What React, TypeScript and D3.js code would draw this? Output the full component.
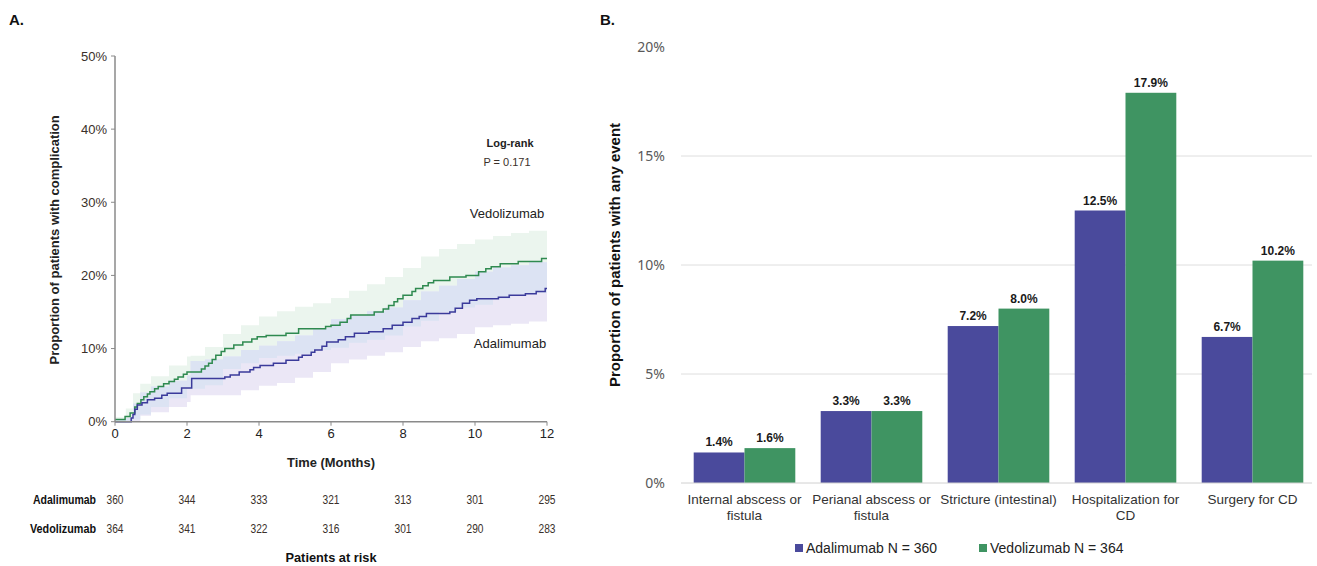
import React from 'react';
import * as d3 from 'd3';

// ---------- Panel A data ----------
const MONTH_TICKS = [0, 2, 4, 6, 8, 10, 12];
const PCT_TICKS_A = [0, 10, 20, 30, 40, 50];
const AT_RISK_ADA = [360, 344, 333, 321, 313, 301, 295];
const AT_RISK_VEDO = [364, 341, 322, 316, 301, 290, 283];

// Kaplan-Meier cumulative incidence steps: [month, percent]
const VEDO_STEPS: [number, number][] = [
  [0, 0.3], [0.28, 0.7], [0.42, 1.2], [0.55, 2.0], [0.62, 2.5], [0.72, 3.0], [0.8, 3.4], [0.9, 3.8],
  [0.97, 4.1], [1.1, 4.5], [1.2, 4.8], [1.35, 5.2], [1.5, 5.5], [1.65, 5.8], [1.75, 6.1], [1.9, 6.5],
  [2.0, 6.8], [2.4, 7.2], [2.5, 7.6], [2.6, 8.0], [2.7, 8.5], [2.8, 9.1], [2.95, 9.6], [3.05, 10.0],
  [3.3, 10.5], [3.55, 10.9], [3.8, 11.3], [3.95, 11.6], [4.2, 11.8], [4.75, 12.1], [5.1, 12.7],
  [5.85, 13.0], [6.0, 13.2], [6.25, 13.6], [6.45, 14.1], [6.55, 14.6], [7.2, 15.0], [7.45, 15.4],
  [7.6, 15.9], [7.75, 16.4], [7.85, 16.8], [8.0, 17.3], [8.25, 17.8], [8.35, 18.2], [8.55, 18.6],
  [8.7, 19.0], [8.85, 19.3], [9.3, 19.8], [9.75, 20.0], [10.1, 20.5], [10.3, 20.9], [10.45, 21.2],
  [10.7, 21.6], [11.2, 21.9], [11.85, 22.3], [12, 22.3],
];
const ADA_STEPS: [number, number][] = [
  [0, 0], [0.45, 0.5], [0.5, 1.0], [0.55, 1.7], [0.62, 2.3], [0.75, 2.6], [0.9, 3.0], [1.1, 3.2],
  [1.3, 3.6], [1.45, 3.9], [1.85, 4.6], [2.13, 5.9], [3.05, 6.1], [3.2, 6.4], [3.45, 6.8], [3.75, 7.1],
  [3.85, 7.4], [4.03, 7.7], [4.4, 8.0], [4.75, 8.4], [5.1, 8.8], [5.2, 9.1], [5.45, 9.5], [5.55, 9.8],
  [5.75, 10.3], [5.88, 10.9], [6.2, 11.2], [6.4, 11.6], [6.65, 12.1], [7.05, 12.3], [7.45, 12.7],
  [7.7, 13.2], [8.0, 13.6], [8.25, 14.1], [8.45, 14.4], [8.65, 14.8], [9.3, 15.0], [9.45, 15.5],
  [9.65, 16.2], [9.85, 16.6], [10.05, 16.8], [10.65, 17.0], [10.95, 17.3], [11.4, 17.5], [11.7, 17.8],
  [11.95, 18.2], [12, 18.2],
];

// Confidence bands (percent) on a shared month grid
const BAND_T = [0, 0.3, 0.5, 0.7, 1, 1.5, 2, 2.1, 2.5, 3, 3.5, 4, 4.5, 5, 5.5, 6, 6.5, 7, 7.5, 8, 8.5, 9, 9.5, 10, 10.5, 11, 11.5, 12];
const VEDO_HI = [0.6, 1.8, 3.9, 5.2, 6.2, 7.7, 8.9, 9.0, 10.2, 12.0, 13.2, 14.4, 15.1, 15.7, 16.2, 16.9, 17.9, 18.8, 19.8, 21.0, 22.6, 23.6, 24.3, 24.9, 25.4, 25.8, 26.1, 26.4];
const VEDO_LO = [0, 0, 0.3, 1.0, 2.0, 3.2, 4.5, 4.5, 5.0, 7.2, 8.0, 8.7, 9.0, 9.3, 9.8, 10.1, 10.8, 11.2, 11.8, 13.0, 13.8, 15.0, 15.6, 16.0, 16.8, 17.4, 17.6, 18.4];
const ADA_HI = [0.3, 0.5, 2.5, 4.0, 4.8, 5.6, 6.3, 8.3, 8.5, 8.9, 9.8, 10.4, 11.0, 11.8, 12.8, 14.0, 14.6, 15.1, 15.6, 16.6, 17.8, 18.6, 19.5, 20.5, 21.1, 21.4, 21.8, 22.3];
const ADA_LO = [0, 0, 0, 0.8, 1.3, 2.0, 2.7, 3.6, 3.6, 3.6, 4.3, 4.9, 5.3, 6.0, 6.8, 8.0, 8.5, 9.0, 9.5, 10.2, 11.0, 11.4, 12.0, 12.9, 13.2, 13.4, 13.7, 14.1];

// ---------- Panel B data ----------
const CATEGORIES = ['Internal abscess or\nfistula', 'Perianal abscess or\nfistula', 'Stricture (intestinal)', 'Hospitalization for\nCD', 'Surgery for CD'];
const SERIES = ['Adalimumab N = 360', 'Vedolizumab N = 364'];
const ADA_VALUES = [1.4, 3.3, 7.2, 12.5, 6.7];
const VEDO_VALUES = [1.6, 3.3, 8.0, 17.9, 10.2];
const PCT_TICKS_B = [0, 5, 10, 15, 20];

const FONT = 'Liberation Sans, Arial, sans-serif';
const BLUE = '#4a4a9c';
const GREEN = '#3f9462';
const BLUE_LINE = '#3b3b9b';
const GREEN_LINE = '#2f8a50';

export default function App() {
  // Panel A scales
  const xA = d3.scaleLinear().domain([0, 12]).range([115, 547]);
  const yA = d3.scaleLinear().domain([0, 50]).range([421.7, 56]);

  const stepLine = d3.line<[number, number]>().x(d => xA(d[0])).y(d => yA(d[1])).curve(d3.curveStepAfter);
  const band = (lo: number[], hi: number[]) =>
    d3.area<number>().x(i => xA(BAND_T[i])).y0(i => yA(lo[i])).y1(i => yA(hi[i])).curve(d3.curveStepAfter)(BAND_T.map((_, i) => i)) || '';
  const ovLo = BAND_T.map((_, i) => Math.max(VEDO_LO[i], ADA_LO[i]));
  const ovHi = BAND_T.map((_, i) => Math.max(ovLo[i], Math.min(VEDO_HI[i], ADA_HI[i])));

  // Panel B scales
  const xB = d3.scaleBand<string>().domain(CATEGORIES).range([681, 1316]).paddingInner(0.2).paddingOuter(0.1);
  const xSub = d3.scaleBand<string>().domain(SERIES).range([0, xB.bandwidth()]);
  const yB = d3.scaleLinear().domain([0, 20]).range([483, 47]);
  const seriesVals = [ADA_VALUES, VEDO_VALUES];
  const seriesColors = [BLUE, GREEN];

  return (
    <svg width={1317} height={566} style={{ position: 'absolute', left: 0, top: 0, background: '#fff' }} fontFamily={FONT}>
      <rect x={0} y={0} width={1317} height={566} fill="#fff" />
      {/* ================= Panel A ================= */}
      <text x={9} y={25} fontSize={15} fontWeight="bold" fill="#111">A.</text>

      {/* bands */}
      <path d={band(VEDO_LO, VEDO_HI)} fill="#ebf5ee" />
      <path d={band(ADA_LO, ADA_HI)} fill="#ebe7f6" />
      <path d={band(ovLo, ovHi)} fill="#dce3f3" />

      {/* curves */}
      <path d={stepLine(VEDO_STEPS) || ''} fill="none" stroke={GREEN_LINE} strokeWidth={1.5} />
      <path d={stepLine(ADA_STEPS) || ''} fill="none" stroke={BLUE_LINE} strokeWidth={1.5} />

      {/* y axis */}
      <line x1={115} x2={115} y1={yA(0)} y2={yA(50)} stroke="#8a8a8a" strokeWidth={1.5} />
      {PCT_TICKS_A.map(t => (
        <g key={t}>
          <line x1={111} x2={115} y1={yA(t)} y2={yA(t)} stroke="#8a8a8a" />
          <text x={107} y={yA(t)} dy="0.35em" textAnchor="end" fontSize={13} fill="#3a302a">{t}%</text>
        </g>
      ))}
      <text transform={`translate(59,${(yA(0) + yA(50)) / 2 + 1}) rotate(-90)`} textAnchor="middle" fontSize={13} fontWeight="bold" fill="#222">
        Proportion of patients with complication
      </text>

      {/* x axis */}
      <line x1={xA(0)} x2={xA(12)} y1={yA(0)} y2={yA(0)} stroke="#8a8a8a" strokeWidth={1.5} />
      {MONTH_TICKS.map(t => (
        <g key={t}>
          <line x1={xA(t)} x2={xA(t)} y1={yA(0)} y2={yA(0) + 4} stroke="#8a8a8a" />
          <text x={xA(t)} y={438} textAnchor="middle" fontSize={13} fill="#222">{t}</text>
        </g>
      ))}
      <text x={331} y={467} textAnchor="middle" fontSize={12.9} fontWeight="bold" fill="#222">Time (Months)</text>

      {/* annotations */}
      <text x={510} y={147} textAnchor="middle" fontSize={11} fontWeight="bold" fill="#222">Log-rank</text>
      <text x={507} y={166} textAnchor="middle" fontSize={11} fill="#3a302a">P = 0.171</text>
      <text x={507} y={218} textAnchor="middle" fontSize={13} fill="#222">Vedolizumab</text>
      <text x={510} y={348} textAnchor="middle" fontSize={13} fill="#222">Adalimumab</text>

      {/* patients at risk */}
      <text x={96} y={504} textAnchor="end" fontSize={12} fontWeight="bold" fill="#111" textLength={63} lengthAdjust="spacingAndGlyphs">Adalimumab</text>
      <text x={96} y={533} textAnchor="end" fontSize={12} fontWeight="bold" fill="#111" textLength={66} lengthAdjust="spacingAndGlyphs">Vedolizumab</text>
      {MONTH_TICKS.map((t, i) => (
        <g key={t}>
          <text x={xA(t)} y={504} textAnchor="middle" fontSize={12} fill="#3a302a" textLength={17} lengthAdjust="spacingAndGlyphs">{AT_RISK_ADA[i]}</text>
          <text x={xA(t)} y={533} textAnchor="middle" fontSize={12} fill="#3a302a" textLength={17} lengthAdjust="spacingAndGlyphs">{AT_RISK_VEDO[i]}</text>
        </g>
      ))}
      <text x={331} y={562} textAnchor="middle" fontSize={12.8} fontWeight="bold" fill="#111">Patients at risk</text>

      {/* ================= Panel B ================= */}
      <text x={600} y={25} fontSize={15} fontWeight="bold" fill="#111">B.</text>
      {PCT_TICKS_B.map(t => (
        <g key={t}>
          {t > 0 && t < 20 && <line x1={681} x2={1312} y1={yB(t)} y2={yB(t)} stroke="#dedede" strokeWidth={1} />}
          <text x={665} y={yB(t)} dy="0.35em" textAnchor="end" fontSize={14} fontFamily="Noto Sans, sans-serif" fill="#595959">{t}%</text>
        </g>
      ))}
      <text transform={`translate(620,255) rotate(-90)`} textAnchor="middle" fontSize={15} fontWeight="bold" fill="#111">
        Proportion of patients with any event
      </text>

      {CATEGORIES.map((c, ci) => (
        <g key={c} transform={`translate(${xB(c)},0)`}>
          {SERIES.map((s, si) => {
            const v = seriesVals[si][ci];
            const x = xSub(s) as number;
            const w = xSub.bandwidth();
            return (
              <g key={s}>
                <rect x={x} y={yB(v)} width={w} height={yB(0) - yB(v)} fill={seriesColors[si]} />
                <text x={x + w / 2} y={yB(v) - 6} textAnchor="middle" fontSize={12} fontWeight="bold" fill="#1a1a1a">
                  {v.toFixed(1)}%
                </text>
              </g>
            );
          })}
        </g>
      ))}
      <line x1={681} x2={1312} y1={yB(0)} y2={yB(0)} stroke="#d0d0d0" strokeWidth={1} />

      {CATEGORIES.map(c => (
        <text key={c} textAnchor="middle" fontSize={13.5} fill="#333">
          {c.split('\n').map((ln, li) => (
            <tspan key={li} x={(xB(c) as number) + xB.bandwidth() / 2} y={504 + li * 15.5}>{ln}</tspan>
          ))}
        </text>
      ))}

      {/* legend */}
      {SERIES.map((s, si) => {
        const lx = [795, 979][si];
        return (
          <g key={s}>
            <rect x={lx} y={544} width={8} height={8} fill={seriesColors[si]} />
            <text x={lx + 11} y={553} fontSize={14} fill="#222">{s}</text>
          </g>
        );
      })}
    </svg>
  );
}
